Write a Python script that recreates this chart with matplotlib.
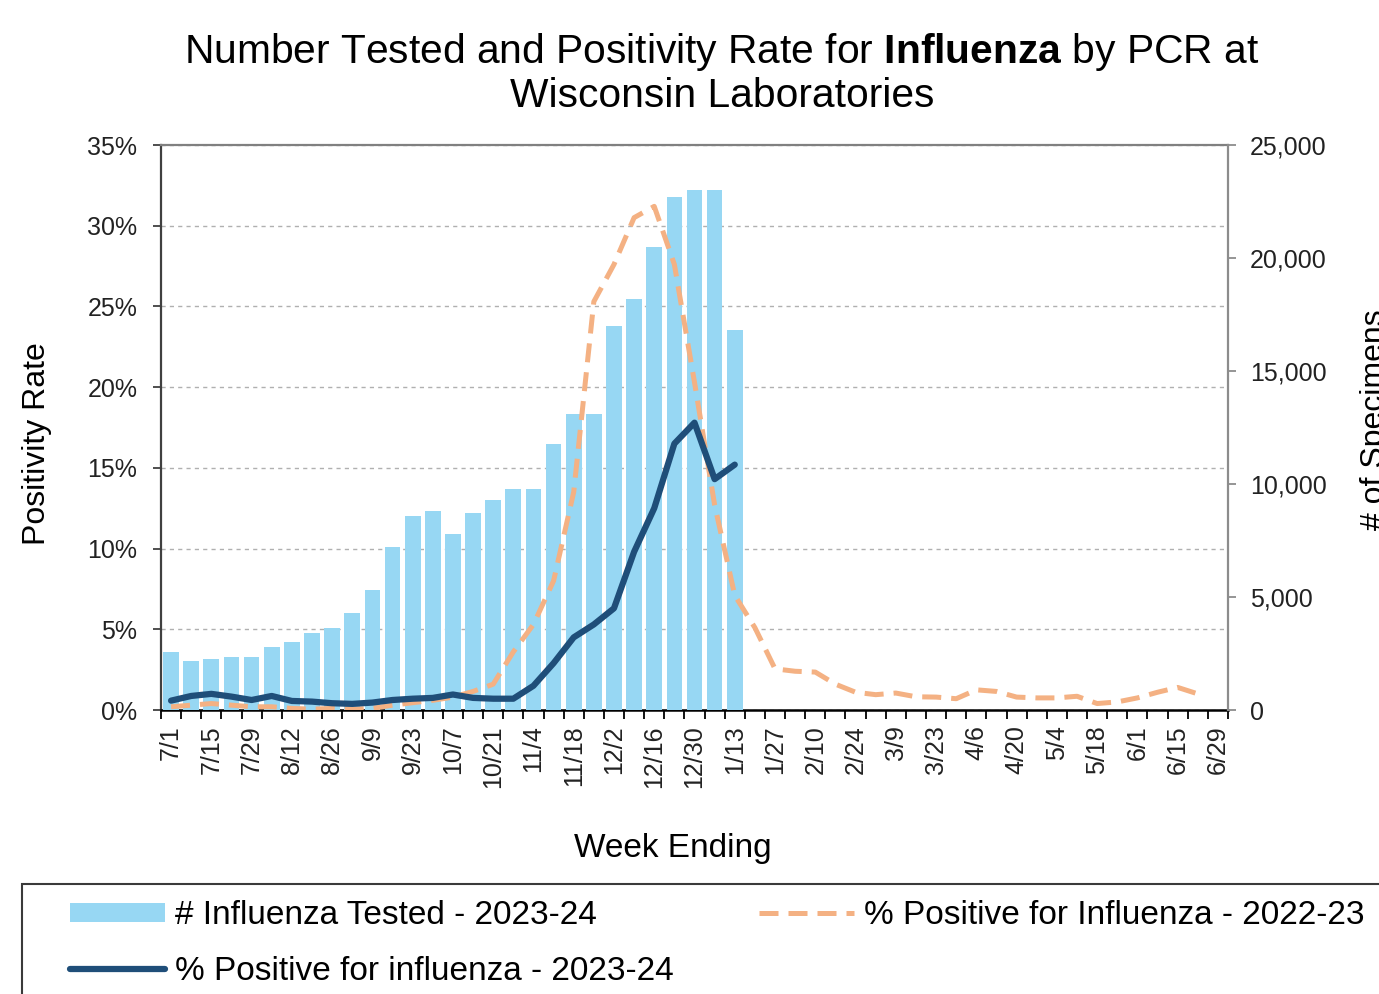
import numpy as np
import matplotlib.pyplot as plt
from matplotlib.patches import Rectangle

plt.rcParams['font.family'] = ['Liberation Sans', 'DejaVu Sans']
plt.rcParams['mathtext.fontset'] = 'custom'
plt.rcParams['mathtext.rm'] = 'Liberation Sans'
plt.rcParams['mathtext.bf'] = 'Liberation Sans:bold'

# week ending dates, 2023-24 season
weeks = ['7/1', '7/8', '7/15', '7/22', '7/29', '8/5', '8/12', '8/19', '8/26',
         '9/2', '9/9', '9/16', '9/23', '9/30', '10/7', '10/14', '10/21', '10/28',
         '11/4', '11/11', '11/18', '11/25', '12/2', '12/9', '12/16', '12/23',
         '12/30', '1/6', '1/13', '1/20', '1/27', '2/3', '2/10', '2/17', '2/24',
         '3/2', '3/9', '3/16', '3/23', '3/30', '4/6', '4/13', '4/20', '4/27',
         '5/4', '5/11', '5/18', '5/25', '6/1', '6/8', '6/15', '6/22', '6/29']

# number of specimens tested (2023-24)
tested_2324 = [2550, 2160, 2270, 2360, 2360, 2770, 3000, 3410, 3650, 4280,
               5300, 7220, 8570, 8810, 7780, 8730, 9290, 9760, 9760, 11750,
               13100, 13100, 17000, 18200, 20500, 22700, 23000, 23000, 16800]

# percent positive (2023-24)
pos_2324 = [0.58, 0.87, 1.0, 0.83, 0.62, 0.87, 0.56, 0.52, 0.42, 0.38,
            0.46, 0.62, 0.7, 0.75, 0.96, 0.75, 0.7, 0.7, 1.5, 2.9,
            4.5, 5.3, 6.3, 9.8, 12.5, 16.5, 17.8, 14.3, 15.2]

# percent positive (2022-23)
pos_2223 = [0.2, 0.3, 0.4, 0.3, 0.2, 0.2, 0.1, 0.05, 0.1, 0.05,
            0.1, 0.3, 0.45, 0.6, 0.8, 1.15, 1.6, 3.6, 5.3, 8.0,
            13.5, 25.3, 27.6, 30.5, 31.2, 27.6, 20.3, 12.7, 7.1, 5.1,
            2.55, 2.4, 2.35, 1.6, 1.1, 0.95, 1.05, 0.82, 0.8, 0.7,
            1.25, 1.15, 0.8, 0.75, 0.75, 0.85, 0.4, 0.5, 0.75, 1.1,
            1.4, 1.0, np.nan]

x = np.arange(len(weeks))

fig = plt.figure(figsize=(13.79, 9.94), dpi=100)
ax = fig.add_axes([0.11675, 0.28571, 0.77375, 0.56841])

# left axis: percent, gridlines
ax.set_xlim(-0.5, len(weeks) - 0.5)
ax.set_ylim(0, 35)
ax.set_yticks(np.arange(0, 36, 5))
ax.set_yticklabels([f'{v}%' for v in range(0, 36, 5)])
ax.grid(axis='y', color='#B0B0B0', linestyle=(0, (3, 3)), lw=1)
ax.set_xticks(x[::2])
ax.set_xticklabels(weeks[::2], rotation=90)
ax.set_xticks(np.arange(-0.5, len(weeks)), minor=True)
ax.tick_params(axis='x', which='major', length=0, pad=11, labelsize=18, labelcolor='#222222')
ax.tick_params(axis='x', which='minor', length=6.5, width=1.3, color='black')
ax.tick_params(axis='y', length=6, width=1.3, color='#404040', pad=11, labelsize=18, labelcolor='#222222')
ax.spines['left'].set_color('#404040')
ax.spines['left'].set_linewidth(1.6)
ax.spines['bottom'].set_linewidth(1.8)
ax.spines['top'].set_color('#808080')
ax.spines['top'].set_linewidth(1.6)
ax.spines['right'].set_visible(False)

# right axis: number tested
ax2 = ax.twinx()
bars = ax2.bar(x[:len(tested_2324)], tested_2324, width=0.78, color='#97D7F3',
               label='# Influenza Tested - 2023-24')
ax2.set_ylim(0, 25000)
ax2.set_yticks(np.arange(0, 25001, 5000))
ax2.set_yticklabels([f'{v:,}' for v in range(0, 25001, 5000)])
ax2.tick_params(axis='y', length=6, width=1.3, color='#8C8C8C', pad=10, labelsize=18, labelcolor='#222222')
ax2.spines['right'].set_color('#8C8C8C')
ax2.spines['right'].set_linewidth(1.6)
for s in ['left', 'top', 'bottom']:
    ax2.spines[s].set_visible(False)

# lines on top of the bars
ax3 = ax.twinx()
ax3.set_ylim(0, 35)
ax3.axis('off')
l_old, = ax3.plot(x[:len(pos_2223)], pos_2223, color='#F4B183', lw=3.6,
                  dashes=(3.8, 2.0), label='% Positive for Influenza - 2022-23')
l_new, = ax3.plot(x[:len(pos_2324)], pos_2324, color='#1F4E79', lw=4.5,
                  solid_joinstyle='round', solid_capstyle='round',
                  label='% Positive for influenza - 2023-24')

fig.text(722/1379, 1 - 73/994,
         'Number Tested and Positivity Rate for $\\mathbf{Influenza}$ by PCR at\nWisconsin Laboratories',
         ha='center', va='center', fontsize=29.3, linespacing=1.15)
fig.text(673/1379, 1 - 848/994, 'Week Ending', ha='center', va='center', fontsize=24)
fig.text(22/1379, 1 - 444/994, 'Positivity Rate', rotation=90, ha='left', va='center', fontsize=23)
fig.text(1360/1379, 1 - 420/994, '# of Specimens', rotation=90, ha='left', va='center', fontsize=23)

fig.legend(handles=[bars, l_new, l_old], ncol=2, loc='upper left',
           bbox_to_anchor=(70/1379, 1 - 900/994), frameon=False, fontsize=24,
           borderpad=0, borderaxespad=0, handlelength=2.85, handletextpad=0.3,
           columnspacing=2.55, labelspacing=0.75, handleheight=0.5)
fig.add_artist(Rectangle((22/1379, -0.05), 1.1, 0.05 + 1 - 884/994,
                         transform=fig.transFigure, fill=False,
                         edgecolor='#3A3A3A', lw=1.5, clip_on=False))

fig.savefig('out.png', dpi=100)
